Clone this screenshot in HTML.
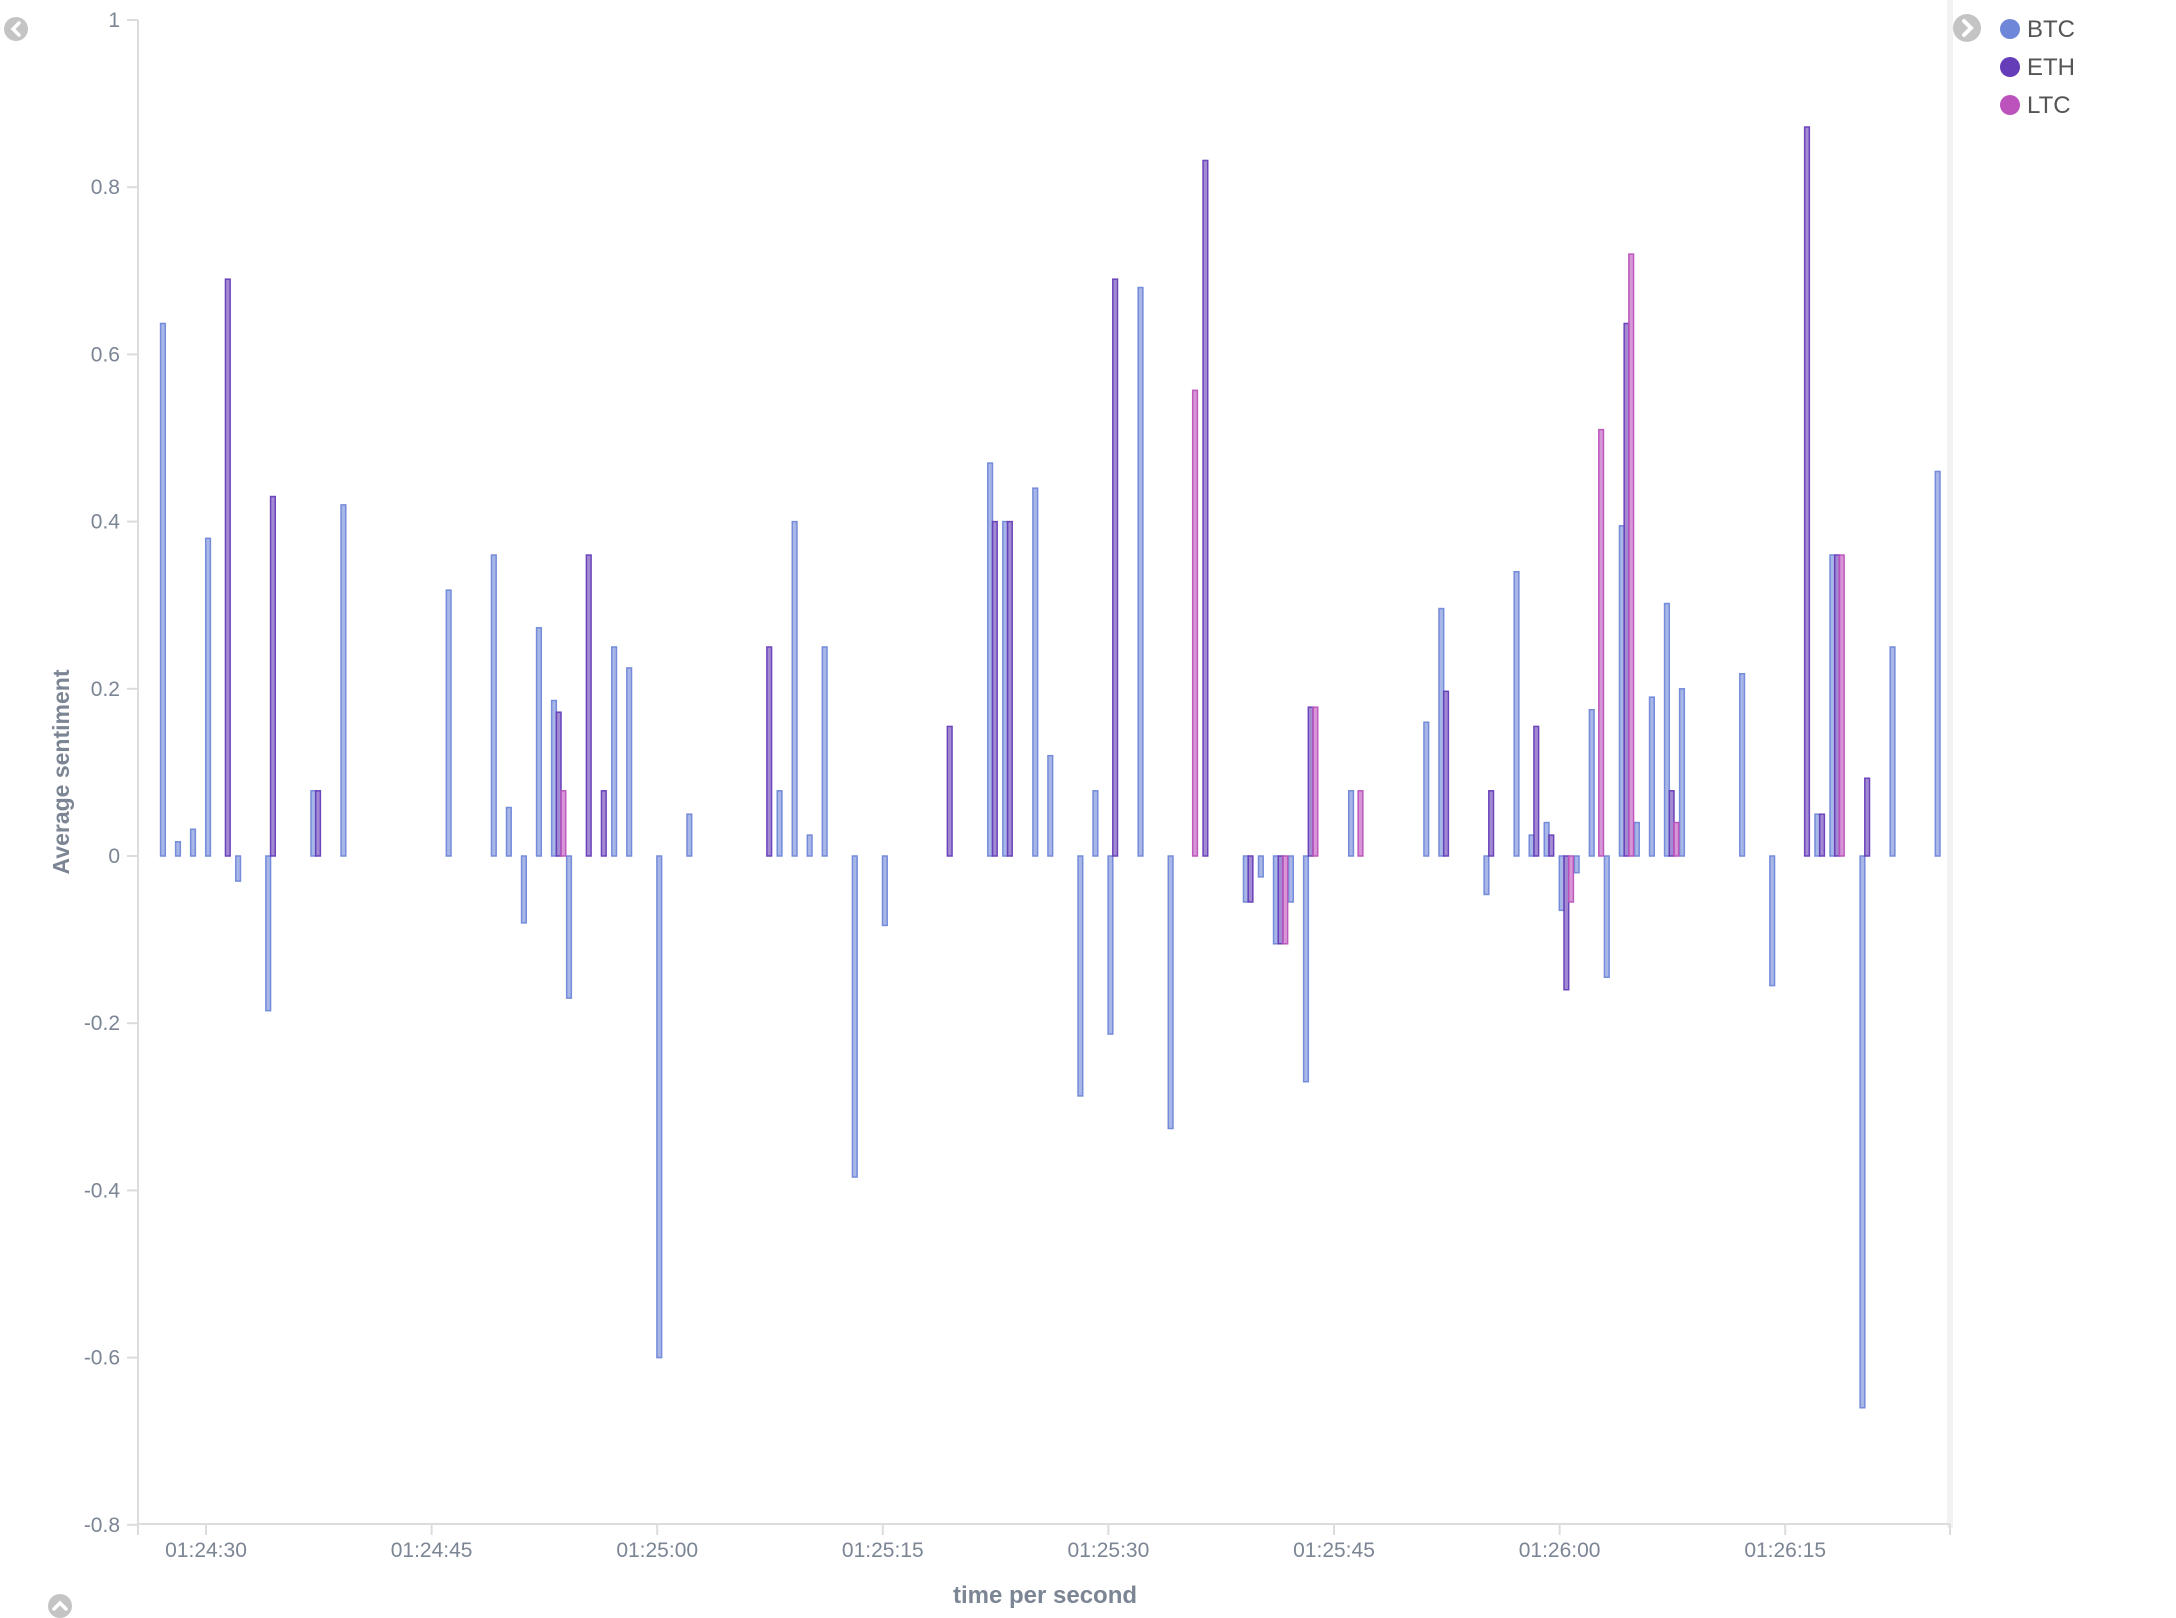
<!DOCTYPE html>
<html><head><meta charset="utf-8"><style>
html,body{margin:0;padding:0;background:#fff;}
svg{display:block;font-family:"Liberation Sans",sans-serif;}
</style></head><body>
<svg id="chart" width="2176" height="1618" viewBox="0 0 2176 1618" xmlns="http://www.w3.org/2000/svg">
<rect x="1947" y="0" width="6" height="1528" fill="#f2f2f2"/>
<g><circle cx="16" cy="29" r="12" fill="#c4c4c4"/><path d="M19 23 L13 29 L19 35" stroke="#fff" stroke-width="3.5" fill="none" stroke-linecap="round"/></g>
<g><circle cx="60" cy="1606" r="12" fill="#c4c4c4"/><path d="M54 1609 L60 1603 L66 1609" stroke="#fff" stroke-width="3.5" fill="none" stroke-linecap="round"/></g>
<g><circle cx="1967" cy="28" r="14" fill="#c4c4c4"/><path d="M1964 21 L1971 28 L1964 35" stroke="#fff" stroke-width="4" fill="none" stroke-linecap="round"/></g>
<g>
<g><circle cx="2010" cy="29" r="10" fill="#6f87d8"/><text x="2027" y="37" font-size="24" fill="#555">BTC</text></g>
<g><circle cx="2010" cy="67" r="10" fill="#663db8"/><text x="2027" y="75" font-size="24" fill="#555">ETH</text></g>
<g><circle cx="2010" cy="105" r="10" fill="#bc52bc"/><text x="2027" y="113" font-size="24" fill="#555">LTC</text></g>
</g>
<text transform="translate(69,772) rotate(-90)" text-anchor="middle" font-size="23" font-weight="bold" fill="#7b8594">Average sentiment</text>
<text x="1045" y="1603" text-anchor="middle" font-size="24" font-weight="bold" fill="#7b8594">time per second</text>
<g id="yaxis"></g>
<g id="xaxis"></g>
<g id="bars"></g>
</svg>
<script>
const yTicks = [1, 0.8, 0.6, 0.4, 0.2, 0, -0.2, -0.4, -0.6, -0.8];
const yTickLabels = ["1","0.8","0.6","0.4","0.2","0","-0.2","-0.4","-0.6","-0.8"];
const xTickSeconds = [0, 15, 30, 45, 60, 75, 90, 105];
const xTickLabels = ["01:24:30","01:24:45","01:25:00","01:25:15","01:25:30","01:25:45","01:26:00","01:26:15"];
const btcSeconds = [-3,-2,-1,0,2,4,7,9,16,19,20,21,22,23,24,27,28,30,32,38,39,40,41,43,45,52,53,55,56,58,59,60,62,64,69,70,71,72,73,76,81,82,85,87,88,89,90,91,92,93,94,95,96,97,98,102,104,107,108,110,112,115];
const btcValues = [0.637,0.017,0.032,0.38,-0.03,-0.185,0.078,0.42,0.318,0.36,0.058,-0.08,0.273,0.186,-0.17,0.25,0.225,-0.6,0.05,0.078,0.4,0.025,0.25,-0.384,-0.083,0.47,0.4,0.44,0.12,-0.287,0.078,-0.213,0.68,-0.326,-0.055,-0.025,-0.105,-0.055,-0.27,0.078,0.16,0.296,-0.046,0.34,0.025,0.04,-0.065,-0.02,0.175,-0.145,0.395,0.04,0.19,0.302,0.2,0.218,-0.155,0.05,0.36,-0.66,0.25,0.46];
const ethSeconds = [1,4,7,23,25,26,37,49,52,53,60,66,69,71,73,82,85,88,89,90,94,97,106,107,108,110];
const ethValues = [0.69,0.43,0.078,0.172,0.36,0.078,0.25,0.155,0.4,0.4,0.69,0.832,-0.055,-0.105,0.178,0.197,0.078,0.155,0.025,-0.16,0.637,0.078,0.872,0.05,0.36,0.093];
const ltcSeconds = [23,65,71,73,76,90,92,94,97,108];
const ltcValues = [0.078,0.557,-0.105,0.178,0.078,-0.055,0.51,0.72,0.04,0.36];

const NS = "http://www.w3.org/2000/svg";
const plotLeft = 138, plotRight = 1950, plotTop = 20, plotBottom = 1524;
const yScale = v => 856 - v * 836;
const xScale = s => 206 + s * 15.04;
function mk(tag, attrs, parent){ const e = document.createElementNS(NS, tag); for (const k in attrs) e.setAttribute(k, attrs[k]); parent.appendChild(e); return e; }

const ya = document.getElementById('yaxis');
const yl = mk('line', {x1:plotLeft, y1:plotTop, x2:plotLeft, y2:1535, stroke:'#dcdcdc', 'stroke-width':2}, ya);


yTicks.forEach((v, i) => {
  const y = yScale(v);
  const t = mk('line', {x1:127, y1:y, x2:plotLeft, y2:y, stroke:'#dcdcdc', 'stroke-width':2}, ya);
  
  
  const l = mk('text', {x:120, y:y + 7, 'text-anchor':'end', 'font-size':21, fill:'#7b8594'}, ya);
  
  
  l.textContent = yTickLabels[i];
});
const xa = document.getElementById('xaxis');
const xl = mk('line', {x1:plotLeft, y1:plotBottom, x2:plotRight, y2:plotBottom, stroke:'#dcdcdc', 'stroke-width':2}, xa);


const xe = mk('line', {x1:plotRight, y1:plotBottom, x2:plotRight, y2:1535, stroke:'#dcdcdc', 'stroke-width':2}, xa);


xTickSeconds.forEach((s, i) => {
  const x = xScale(s);
  const t = mk('line', {x1:x, y1:plotBottom, x2:x, y2:1535, stroke:'#dcdcdc', 'stroke-width':2}, xa);
  
  
  const l = mk('text', {x:x, y:1557, 'text-anchor':'middle', 'font-size':21, fill:'#7b8594'}, xa);
  
  
  l.textContent = xTickLabels[i];
});

const bg = document.getElementById('bars');
const bw = 4.7;
function drawSeries(secs, vals, idx, fill, stroke, name){
  secs.forEach((s, i) => {
    const v = vals[i];
    const x = xScale(s) - 0.3 + idx * bw;
    const y0 = yScale(0), y1 = yScale(v);
    const r = mk('rect', {x:x, y:Math.min(y0, y1), width:bw, height:Math.max(1, Math.abs(y1 - y0)), fill:fill, stroke:stroke, 'stroke-width':1.5}, bg);
    
    
  });
}
drawSeries(btcSeconds, btcValues, 0, 'rgba(111,135,216,0.6)', 'rgba(111,135,216,0.95)', 'bar-btc');
drawSeries(ethSeconds, ethValues, 1, 'rgba(102,61,184,0.6)', 'rgba(102,61,184,0.95)', 'bar-eth');
drawSeries(ltcSeconds, ltcValues, 2, 'rgba(188,82,188,0.6)', 'rgba(188,82,188,0.95)', 'bar-ltc');
</script>
</body></html>
